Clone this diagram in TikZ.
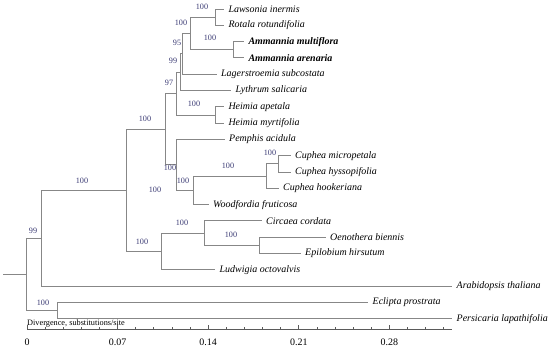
\documentclass[tikz,border=0pt]{standalone}
\usepackage{fontspec}
\setmainfont{Liberation Serif}
\definecolor{treegray}{RGB}{135,135,135}
\definecolor{axgray}{RGB}{90,90,90}
\definecolor{bsblue}{RGB}{58,58,115}
\begin{document}
\begin{tikzpicture}[x=1bp,y=-1bp,
  br/.style={draw=treegray,line width=0.9bp},
  leaf/.style={anchor=west,inner xsep=4.5bp,inner ysep=0pt,font=\fontsize{10}{12}\selectfont\itshape},
  leafb/.style={leaf,font=\fontsize{10}{12}\selectfont\bfseries\itshape},
  bs/.style={inner sep=0pt,text=bsblue,font=\fontsize{8.2}{10}\selectfont},
  ax/.style={draw=axgray,line width=0.7bp},
  axlab/.style={inner sep=0pt,font=\fontsize{10}{12}\selectfont}]
\useasboundingbox (0,0) rectangle (550,349);
% leaves
\node[leaf]  (lLaw) at (223.8,9.0)   {Lawsonia inermis};
\node[leaf]  (lRot) at (223.8,25.3)  {Rotala rotundifolia};
\node[leafb] (lAmu) at (243.8,41.6)  {Ammannia multiflora};
\node[leafb] (lAar) at (243.8,57.9)  {Ammannia arenaria};
\node[leaf]  (lLag) at (216.5,74.2)  {Lagerstroemia subcostata};
\node[leaf]  (lLyt) at (231.0,90.5)  {Lythrum salicaria};
\node[leaf]  (lHap) at (223.8,106.8) {Heimia apetala};
\node[leaf]  (lHmy) at (223.8,123.1) {Heimia myrtifolia};
\node[leaf]  (lPem) at (224.5,139.4) {Pemphis acidula};
\node[leaf]  (lCmi) at (290.5,155.7) {Cuphea micropetala};
\node[leaf]  (lChy) at (290.5,172.0) {Cuphea hyssopifolia};
\node[leaf]  (lCho) at (278.5,188.3) {Cuphea hookeriana};
\node[leaf]  (lWoo) at (208.5,204.6) {Woodfordia fruticosa};
\node[leaf]  (lCir) at (261.5,220.9) {Circaea cordata};
\node[leaf]  (lOen) at (325.5,237.2) {Oenothera biennis};
\node[leaf]  (lEpi) at (300.5,253.5) {Epilobium hirsutum};
\node[leaf]  (lLud) at (215.0,269.8) {Ludwigia octovalvis};
\node[leaf]  (lAra) at (452.0,286.1) {Arabidopsis thaliana};
\node[leaf]  (lEcl) at (368.0,302.4) {Eclipta prostrata};
\node[leaf]  (lPer) at (452.0,318.7) {Persicaria lapathifolia};
% internal nodes
\coordinate (nLR)  at (215.0,17.15);
\coordinate (nAm)  at (233.3,49.75);
\coordinate (n190) at (190.0,33.45);
\coordinate (n95)  at (182.6,53.8);
\coordinate (n99)  at (180.6,72.15);
\coordinate (nHe)  at (215.0,114.95);
\coordinate (n97)  at (176.7,93.55);
\coordinate (nCu2) at (278.0,163.85);
\coordinate (nCu1) at (266.0,176.1);
\coordinate (n193) at (193.3,190.35);
\coordinate (n176) at (176.7,164.9);
\coordinate (n165) at (165.7,129.2);
\coordinate (nEp)  at (259.0,245.35);
\coordinate (nCi)  at (204.0,233.1);
\coordinate (nOn)  at (161.0,251.45);
\coordinate (n125) at (126.0,190.3);
\coordinate (n41)  at (41.0,238.2);
\coordinate (nEP)  at (57.7,310.55);
\coordinate (root) at (26.7,274.4);
\coordinate (stem) at (3.3,274.4);
% branches
\draw[br] (nLR) |- (lLaw); \draw[br] (nLR) |- (lRot);
\draw[br] (nAm) |- (lAmu); \draw[br] (nAm) |- (lAar);
\draw[br] (n190) |- (nLR); \draw[br] (n190) |- (nAm);
\draw[br] (n95) |- (n190); \draw[br] (n95) |- (lLag);
\draw[br] (n99) |- (n95); \draw[br] (n99) |- (lLyt);
\draw[br] (nHe) |- (lHap); \draw[br] (nHe) |- (lHmy);
\draw[br] (n97) |- (n99); \draw[br] (n97) |- (nHe);
\draw[br] (nCu2) |- (lCmi); \draw[br] (nCu2) |- (lChy);
\draw[br] (nCu1) |- (nCu2); \draw[br] (nCu1) |- (lCho);
\draw[br] (n193) |- (nCu1); \draw[br] (n193) |- (lWoo);
\draw[br] (n176) |- (lPem); \draw[br] (n176) |- (n193);
\draw[br] (n165) |- (n97); \draw[br] (n165) |- (n176);
\draw[br] (nEp) |- (lOen); \draw[br] (nEp) |- (lEpi);
\draw[br] (nCi) |- (lCir); \draw[br] (nCi) |- (nEp);
\draw[br] (nOn) |- (nCi); \draw[br] (nOn) |- (lLud);
\draw[br] (n125) |- (n165); \draw[br] (n125) |- (nOn);
\draw[br] (n41) |- (n125); \draw[br] (n41) |- (lAra);
\draw[br] (nEP) |- (lEcl); \draw[br] (nEP) |- (lPer);
\draw[br] (root) |- (n41); \draw[br] (root) |- (nEP);
\draw[br] (stem) -- (root);
% bootstrap values
\node[bs] (bLR)  at (202,7)   {100};
\node[bs] (bAm)  at (210,38)  {100};
\node[bs] (b190) at (181,23)  {100};
\node[bs] (b95)  at (177,43)  {95};
\node[bs] (b99)  at (173,61)  {99};
\node[bs] (b97)  at (169,83)  {97};
\node[bs] (bHe)  at (194,104) {100};
\node[bs] (b165) at (145,119) {100};
\node[bs] (b176) at (170,168) {100};
\node[bs] (b193) at (183,181) {100};
\node[bs] (bCu1) at (228,166) {100};
\node[bs] (bCu2) at (270,153) {100};
\node[bs] (bX)   at (155,190) {100};
\node[bs] (b125) at (82,181)  {100};
\node[bs] (bOn)  at (142,242) {100};
\node[bs] (bCi)  at (182,223) {100};
\node[bs] (bEp)  at (231,235) {100};
\node[bs] (b41)  at (33,231)  {99};
\node[bs] (bEP)  at (43,303)  {100};
% axis
\node[anchor=west,inner sep=0pt,font=\fontsize{8.3}{10}\selectfont] (axtitle) at (27,323.5) {Divergence, substitutions/site};
\coordinate (axL) at (27,329.5);
\coordinate (axR) at (452,329.5);
\draw[ax] (axL) -- (axR);
\foreach \k in {0,...,23}{
  \draw[ax] (27+18.12*\k,329.5) -- ++(0,-2.5);
}
\foreach \k/\t in {0/0,1/0.07,2/0.14,3/0.21,4/0.28}{
  \draw[ax] (27+90.6*\k,329.5) -- ++(0,-5);
  \node[axlab] (ax\k) at (27+90.6*\k,342) {\t};
}
\end{tikzpicture}
\end{document}
